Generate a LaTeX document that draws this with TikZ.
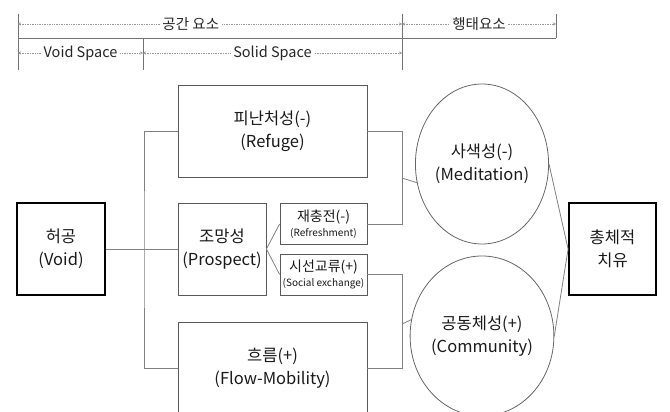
\documentclass[tikz,border=0pt]{standalone}
\usepackage{fontspec}
\setmainfont{Noto Sans CJK KR}
\usetikzlibrary{arrows.meta, positioning, calc, shapes.geometric}

\begin{document}
\begin{tikzpicture}[x=1pt, y=-1pt,
  box/.style={draw=black!65, line width=0.8pt, align=center, inner sep=0pt, text=black!90, font=\fontsize{16.5}{23}\selectfont},
  endbox/.style={box, draw=black, line width=1.8pt, minimum width=88pt, minimum height=92pt},
  subbox/.style={box, minimum width=87pt, minimum height=41pt, font=\fontsize{14}{15}\selectfont},
  oval/.style={ellipse, draw=black!60, line width=0.8pt, minimum width=102pt, minimum height=160pt, inner sep=0pt, align=center, text=black!90, font=\fontsize{16.5}{23}\selectfont},
  link/.style={draw=black!50, line width=0.8pt},
  ruler/.style={draw=black!55, line width=0.8pt},
  dim/.style={draw=black!40, densely dotted, line width=0.7pt, {Stealth[length=3pt,width=3pt]}-{Stealth[length=3pt,width=3pt]}},
  dimtext/.style={fill=white, inner sep=2pt, text=black!85, font=\fontsize{14.5}{16}\selectfont}]
\useasboundingbox (0,0) rectangle (670,412);
% header
\draw[ruler] (18,14) -- (18,70) (143,38) -- (143,70) (402,14) -- (402,70) (556,14) -- (556,38) (18,38) -- (556,38);
\draw[dim] (18,24) -- node[dimtext, pos=0.45] (space) {공간 요소} (402,24);
\draw[dim] (402,24) -- node[dimtext] (behav) {행태요소} (556,24);
\draw[dim] (18,53) -- node[dimtext] (voidsp) {Void Space} (143,53);
\draw[dim] (143,53) -- node[dimtext] (solidsp) {Solid Space} (402,53);
% boxes
\node[endbox] (void) at (61,249) {허공\\(Void)};
\node[box, minimum width=189pt, minimum height=92pt] (refuge) at (272.5,131) {피난처성(-)\\(Refuge)};
\node[box, minimum width=88pt, minimum height=92pt] (prospect) at (222,249) {조망성\\(Prospect)};
\node[subbox] (refresh) at (323.5,224) {재충전(-)\\{\fontsize{10}{11}\selectfont (Refreshment)}};
\node[subbox] (social) at (323.5,274.5) {시선교류(+)\\{\fontsize{10}{11}\selectfont (Social exchange)}};
\node[box, minimum width=189pt, minimum height=92pt] (flow) at (272.5,368) {흐름(+)\\(Flow-Mobility)};
\node[oval] (medit) at (482,164) {사색성(-)\\(Meditation)};
\node[oval] (commu) at (482,336) {공동체성(+)\\(Community)};
\node[endbox, minimum width=87pt] (heal) at (612.5,249) {총체적\\치유};
% connectors
\coordinate (lbus) at (144,249);
\coordinate (rbus) at (402,178);
\coordinate (cbus) at (402,324);
\draw[link] (void.east) -- (prospect.west);
\draw[link] (refuge.west) -| (lbus) |- (flow.west);
\draw[link] (prospect.east) -- (refresh.west);
\draw[link] (prospect.east) -- (social.west);
\draw[link] (refuge.east) -| (rbus);
\draw[link] (refresh.east) -| (rbus);
\draw[link] (rbus) -- (medit.196);
\draw[link] (social.east) -| (cbus);
\draw[link] (flow.east) -| (cbus);
\draw[link] (cbus) -- (commu.167);
\draw[link] (medit.east) -- (heal.west);
\draw[link] (commu.east) -- (heal.west);
\end{tikzpicture}
\end{document}
